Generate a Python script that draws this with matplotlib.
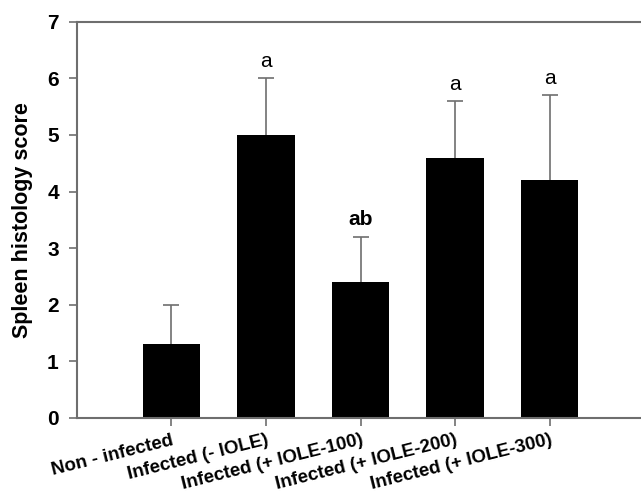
import matplotlib
matplotlib.use("Agg")
import matplotlib.pyplot as plt

groupes = ["Non - infected", "Infected (- IOLE)", "Infected (+ IOLE-100)",
           "Infected (+ IOLE-200)", "Infected (+ IOLE-300)"]
scores = [1.3, 5.0, 2.4, 4.6, 4.2]
erreurs = [0.7, 1.0, 0.8, 1.0, 1.5]
lettres = ["", "a", "ab", "a", "a"]
lettres_gras = [False, False, True, False, False]

GRIS = "#6e6e6e"

plt.rcParams["font.family"] = ["Liberation Sans", "DejaVu Sans"]

fig = plt.figure(figsize=(6.41, 4.94), dpi=100)
ax = fig.add_axes([0.120, 0.154, 0.885, 0.802])

x = list(range(len(groupes)))
ax.bar(x, scores, width=0.61, color="black", zorder=2)
_, caps, _ = ax.errorbar(x, scores, yerr=[[0] * len(erreurs), erreurs], fmt="none",
                         ecolor=GRIS, elinewidth=1.2, capsize=5.5, capthick=1.2,
                         zorder=1)
# seul le chapeau du haut est dessiné
caps[0].set_visible(False)

for i in x:
    if lettres[i]:
        ax.text(i, scores[i] + erreurs[i] + 0.13, lettres[i],
                ha="center", va="bottom", fontsize=15,
                fontweight="bold" if lettres_gras[i] else "normal")

ax.set_xlim(-1.0, 5.0)
ax.set_ylim(0, 7)
ax.set_xticks(x)
ax.set_xticklabels(groupes, rotation=14, ha="right", rotation_mode="anchor",
                   fontsize=13.5, fontweight="bold")
ax.set_yticks(range(0, 8))
ax.set_yticklabels([str(v) for v in range(0, 8)], fontsize=15, fontweight="bold")
ax.set_ylabel("Spleen histology score", fontsize=15.5, fontweight="bold")
ax.yaxis.set_label_coords(-0.077, 0.5)

for cote in ["left", "bottom", "top"]:
    ax.spines[cote].set_color(GRIS)
    ax.spines[cote].set_linewidth(1.5)
ax.spines["right"].set_visible(False)
ax.tick_params(axis="both", direction="out", color=GRIS, width=1.2, length=6)
ax.tick_params(axis="x", pad=4)
ax.tick_params(axis="y", pad=7)

fig.savefig("out.png", dpi=100)
